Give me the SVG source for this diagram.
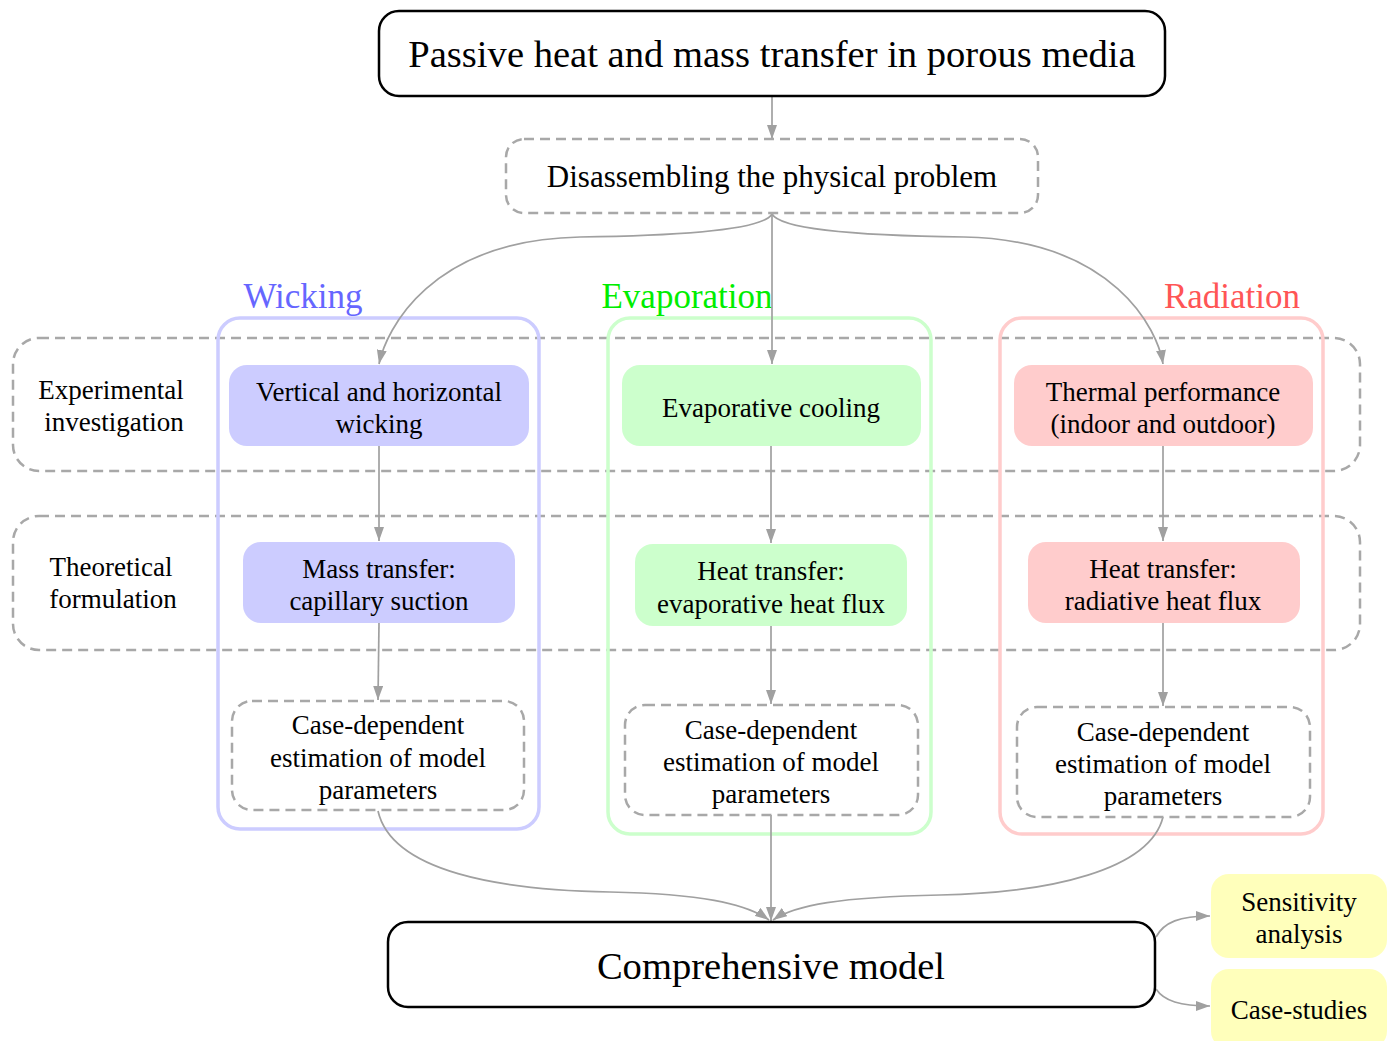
<svg xmlns="http://www.w3.org/2000/svg" width="1392" height="1041" viewBox="0 0 1392 1041">
<defs>
<marker id="ah" markerWidth="14" markerHeight="10" refX="14" refY="5" orient="auto" markerUnits="userSpaceOnUse" viewBox="0 0 14 10">
<path d="M0,0 L14,5 L0,10 Z" fill="#a0a0a0"/>
</marker>
<style>
text{font-family:"Liberation Serif","Times New Roman",serif;text-anchor:middle;fill:#000}
.t24{font-size:27px}
.t36{font-size:38.6px}
.band{fill:none;stroke:#a8a8a8;stroke-width:2.5;stroke-dasharray:10,6}
.dash{fill:#fff;stroke:#a8a8a8;stroke-width:2.5;stroke-dasharray:10,6}
.main{fill:#fff;stroke:#000;stroke-width:2.5}
.edge{fill:none;stroke:#a0a0a0;stroke-width:1.7;marker-end:url(#ah)}
.cl{font-size:35px}
</style>
</defs>
<rect width="1392" height="1041" fill="#fff"/>

<g id="bands">
<rect class="band" x="13" y="338" width="1347" height="133" rx="26"/>
<rect class="band" x="13" y="516" width="1347" height="134" rx="26"/>
<text class="t24" x="111" y="399">Experimental</text>
<text class="t24" x="114" y="431">investigation</text>
<text class="t24" x="111" y="576">Theoretical</text>
<text class="t24" x="113" y="608">formulation</text>
</g>

<g id="cluster-wicking">
<rect x="218" y="318" width="321" height="511" rx="22" fill="none" stroke="#ccccff" stroke-width="3.5"/>
<text class="cl" x="303" y="308" style="fill:#6666ff">Wicking</text>
</g>
<g id="cluster-evaporation">
<rect x="608" y="318" width="323" height="516" rx="22" fill="none" stroke="#ccffcc" stroke-width="3.5"/>
<text class="cl" x="687" y="308" style="fill:#00ee00">Evaporation</text>
</g>
<g id="cluster-radiation">
<rect x="1000" y="318" width="323" height="516" rx="22" fill="none" stroke="#ffcccc" stroke-width="3.5"/>
<text class="cl" x="1232" y="308" style="fill:#ff5555">Radiation</text>
</g>

<g id="connectors">
<path class="edge" d="M772,96 L772,139"/>
<path class="edge" d="M772,214 C762,232 660,236 580,237 C430,240 386,330 379,364"/>
<path class="edge" d="M772,214 L772,364"/>
<path class="edge" d="M772,214 C782,232 884,236 964,237 C1114,240 1158,330 1163,364"/>
<path class="edge" d="M379,446 L379,541"/>
<path class="edge" d="M379,623 L378,700"/>
<path class="edge" d="M771,446 L771,543"/>
<path class="edge" d="M771,626 L771,704"/>
<path class="edge" d="M1163,446 L1163,541"/>
<path class="edge" d="M1163,623 L1163,706"/>
<path class="edge" d="M378,811 C392,872 500,890 610,892 C700,894 745,903 769,920"/>
<path class="edge" d="M771,815 L771,921"/>
<path class="edge" d="M1163,817 C1150,870 1050,893 940,895 C840,897 795,905 773,920"/>
<path class="edge" d="M1156,937 C1164,922 1180,916 1210,916"/>
<path class="edge" d="M1156,989 C1164,1001 1180,1006 1210,1006"/>
</g>

<g id="n-title">
<rect class="main" x="379" y="11" width="786" height="85" rx="20"/>
<text class="t36" x="772" y="67">Passive heat and mass transfer in porous media</text>
</g>
<g id="n-disassembling">
<rect class="dash" x="506" y="139" width="532" height="74" rx="18"/>
<text x="772" y="187" style="font-size:31px">Disassembling the physical problem</text>
</g>

<g id="n-w1">
<rect x="229" y="365" width="300" height="81" rx="18" fill="#ccccff"/>
<text class="t24" x="379" y="401">Vertical and horizontal</text>
<text class="t24" x="379" y="433">wicking</text>
</g>
<g id="n-w2">
<rect x="243" y="542" width="272" height="81" rx="18" fill="#ccccff"/>
<text class="t24" x="379" y="578">Mass transfer:</text>
<text class="t24" x="379" y="610">capillary suction</text>
</g>
<g id="n-w3">
<rect class="dash" x="232" y="701" width="292" height="109" rx="20"/>
<text class="t24" x="378" y="734">Case-dependent</text>
<text class="t24" x="378" y="767">estimation of model</text>
<text class="t24" x="378" y="799">parameters</text>
</g>

<g id="n-e1">
<rect x="622" y="365" width="299" height="81" rx="18" fill="#ccffcc"/>
<text class="t24" x="771" y="417">Evaporative cooling</text>
</g>
<g id="n-e2">
<rect x="635" y="544" width="272" height="82" rx="18" fill="#ccffcc"/>
<text class="t24" x="771" y="580">Heat transfer:</text>
<text class="t24" x="771" y="613">evaporative heat flux</text>
</g>
<g id="n-e3">
<rect class="dash" x="625" y="705" width="293" height="110" rx="20"/>
<text class="t24" x="771" y="739">Case-dependent</text>
<text class="t24" x="771" y="771">estimation of model</text>
<text class="t24" x="771" y="803">parameters</text>
</g>

<g id="n-r1">
<rect x="1014" y="365" width="299" height="81" rx="18" fill="#ffcccc"/>
<text class="t24" x="1163" y="401">Thermal performance</text>
<text class="t24" x="1163" y="433">(indoor and outdoor)</text>
</g>
<g id="n-r2">
<rect x="1028" y="542" width="272" height="81" rx="18" fill="#ffcccc"/>
<text class="t24" x="1163" y="578">Heat transfer:</text>
<text class="t24" x="1163" y="610">radiative heat flux</text>
</g>
<g id="n-r3">
<rect class="dash" x="1017" y="707" width="293" height="110" rx="20"/>
<text class="t24" x="1163" y="741">Case-dependent</text>
<text class="t24" x="1163" y="773">estimation of model</text>
<text class="t24" x="1163" y="805">parameters</text>
</g>

<g id="n-comprehensive">
<rect class="main" x="388" y="922" width="767" height="85" rx="20"/>
<text class="t36" x="771" y="979">Comprehensive model</text>
</g>
<g id="n-sensitivity">
<rect x="1211" y="874" width="176" height="84" rx="18" fill="#ffffbb"/>
<text class="t24" x="1299" y="911">Sensitivity</text>
<text class="t24" x="1299" y="943">analysis</text>
</g>
<g id="n-casestudies">
<rect x="1211" y="969" width="176" height="80" rx="18" fill="#ffffbb"/>
<text class="t24" x="1299" y="1019">Case-studies</text>
</g>
</svg>
